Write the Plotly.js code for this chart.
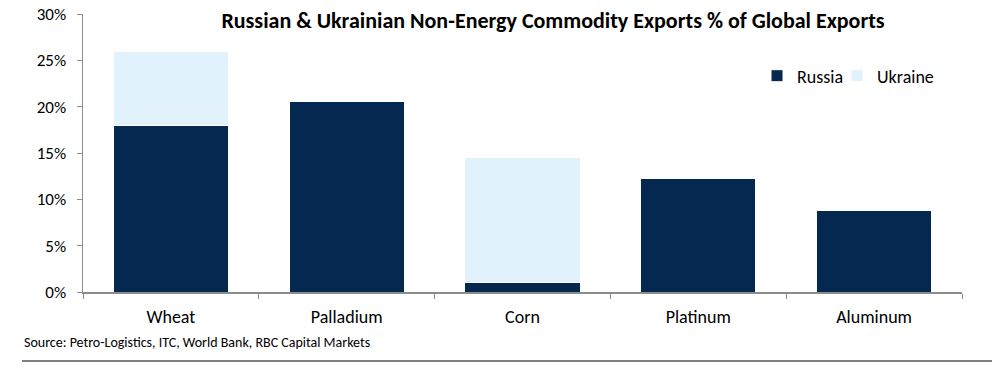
<!DOCTYPE html>
<html>
<head>
<meta charset="utf-8">
<script src="https://cdn.plot.ly/plotly-3.0.1.min.js"></script>
<style>html,body{margin:0;padding:0;background:#fff;}#chart{width:992px;height:368px;}</style>
</head>
<body>
<div id="chart"></div>
<script>
const categories = ["Wheat", "Palladium", "Corn", "Platinum", "Aluminum"];
const russia = [18.0, 20.6, 1.0, 12.2, 8.8];
const ukraine = [8.0, 0, 13.5, 0, 0];
const yTickVals = [0, 5, 10, 15, 20, 25, 30];
const yTickText = ["0%", "5%", "10%", "15%", "20%", "25%", "30%"];

const FONT = "Carlito, Lato, 'Liberation Sans', sans-serif";
const NAVY = "#052851";
const LIGHT = "#E1F2FD";

const traces = [
  {type: "bar", name: "Russia", x: categories, y: russia, legend: "legend",
   marker: {color: NAVY, line: {color: "#ffffff", width: 1}}, hoverinfo: "skip"},
  {type: "bar", name: "Ukraine", x: categories, y: ukraine, legend: "legend2",
   marker: {color: LIGHT, line: {color: "#ffffff", width: 1}}, hoverinfo: "skip"}
];

const legendCommon = {orientation: "h", y: 0.777, xanchor: "left", yanchor: "middle",
  font: {family: FONT, size: 18, color: "#000"}, bgcolor: "rgba(0,0,0,0)", itemwidth: 30};

const layout = {
  width: 992, height: 368,
  margin: {l: 83, r: 30, t: 14, b: 76},
  paper_bgcolor: "#fff", plot_bgcolor: "#fff",
  font: {family: FONT, color: "#000", size: 15},
  barmode: "stack", bargap: 0.345,
  showlegend: true,
  title: {text: "<b>Russian & Ukrainian Non-Energy Commodity Exports % of Global Exports</b>",
          x: 0.5575, xanchor: "center", y: 0.946, yanchor: "middle", xref: "container", yref: "container",
          font: {family: FONT, size: 22, color: "#000"}},
  legend: Object.assign({}, legendCommon, {x: 0.7668}),
  legend2: Object.assign({}, legendCommon, {x: 0.8578}),
  xaxis: {type: "category", showline: true, linecolor: "#8c8c8c", linewidth: 1.5,
          ticks: "outside", tickson: "boundaries", ticklen: 5, tickcolor: "#8c8c8c",
          ticklabelstandoff: 8,
          showgrid: false, zeroline: false, tickfont: {family: FONT, size: 18, color: "#000"}},
  yaxis: {range: [0, 30], tickvals: yTickVals, ticktext: yTickText,
          showline: true, linecolor: "#8c8c8c", linewidth: 1.5,
          ticks: "outside", ticklen: 5, tickcolor: "#8c8c8c",
          ticklabelstandoff: 7,
          showgrid: false, zeroline: false, tickfont: {family: FONT, size: 17, color: "#000"}},
  annotations: [{text: "Source: Petro-Logistics, ITC, World Bank, RBC Capital Markets",
                 xref: "paper", yref: "paper", x: -0.0694, y: -0.18, xanchor: "left", yanchor: "middle",
                 showarrow: false, font: {family: FONT, size: 14, color: "#000"}}],
  shapes: [{type: "line", xref: "paper", yref: "paper", x0: -0.0694, x1: 1.04, y0: -0.2482, y1: -0.2482,
            line: {color: "#555555", width: 1.5}}]
};

Plotly.newPlot("chart", traces, layout, {staticPlot: true, displayModeBar: false});
</script>
</body>
</html>
